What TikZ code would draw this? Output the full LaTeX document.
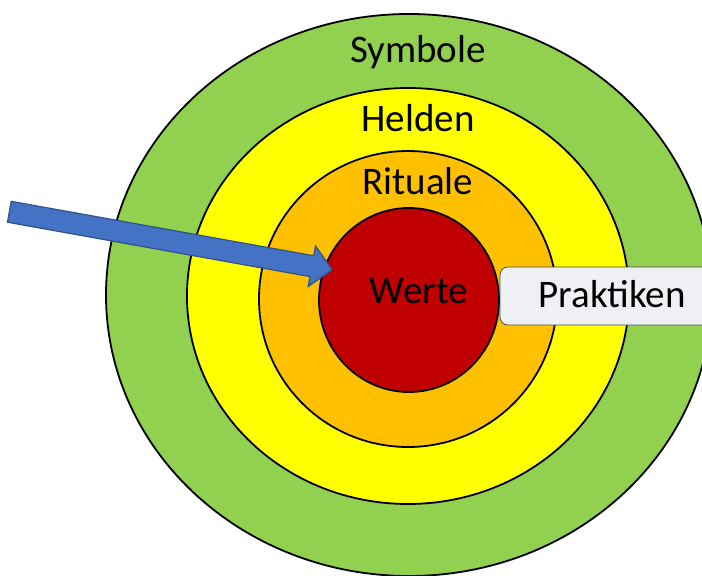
\documentclass[tikz,border=0pt]{standalone}
\usepackage{fontspec}
\setmainfont{Carlito}
\usetikzlibrary{shapes.geometric,shapes.arrows,positioning}
\definecolor{symbolGreen}{HTML}{92D050}
\definecolor{heroYellow}{HTML}{FFFF00}
\definecolor{ritualOrange}{HTML}{FFC000}
\definecolor{valueRed}{HTML}{C00000}
\definecolor{pointerBlue}{HTML}{4472C4}
\definecolor{pointerEdge}{HTML}{2F528F}
\definecolor{boxFill}{HTML}{EEF0F4}
\tikzstyle{ring}=[draw=black, ellipse, line width=1.8bp, inner sep=0pt]
\tikzstyle{layerLabel}=[anchor=base, inner sep=0pt, font=\fontsize{39bp}{45bp}\selectfont]
\tikzstyle{practiceBox}=[draw=gray!60!black, fill=boxFill, line width=0.8bp, rounded corners=8bp, minimum width=222bp, minimum height=58bp, inner sep=0pt]
\tikzstyle{pointerArrow}=[single arrow, draw=pointerEdge, fill=pointerBlue, line width=1.2bp, inner sep=10bp, single arrow head extend=10bp, minimum height=328bp, rotate=-10.2, anchor=tip]

\begin{document}
\begin{tikzpicture}[x=1bp, y=-1bp]
    \useasboundingbox (0,0) rectangle (702,576);
    \clip (0,0) rectangle (702,576);
    \fill[white] (0,0) rectangle (702,576);

    % rings
    \node[ring, fill=symbolGreen, minimum width=606bp, minimum height=562bp] (symbole) at (409,295) {};
    \node[ring, fill=heroYellow, minimum width=442bp, minimum height=416bp] (helden) at (408,296) {};
    \node[ring, fill=ritualOrange, minimum width=298bp, minimum height=296bp] (rituale) at (408,299) {};
    \node[ring, fill=valueRed, minimum width=180bp, minimum height=184bp] (werte) at (409,300) {};

    % labels
    \node[layerLabel] (symboleText) at (418,63) {Symbole};
    \node[layerLabel] (heldenText) at (418,132) {Helden};
    \node[layerLabel] (ritualeText) at (418,195) {Rituale};
    \node[layerLabel] (werteText) at (419,303) {Werte};

    % box
    \node[practiceBox] (praktiken) at (611,296) {};
    \node[layerLabel] (praktikenText) at (612,307) {Praktiken};

    % pointer
    \coordinate (tip) at (333,270);
    \node[pointerArrow] (pointer) at (tip) {};

\end{tikzpicture}
\end{document}
